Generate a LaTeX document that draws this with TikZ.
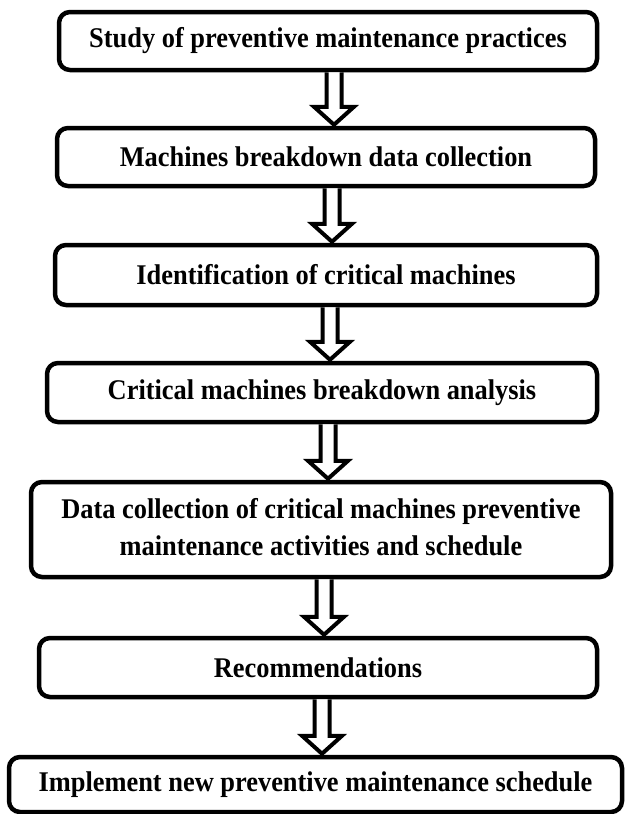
\documentclass[tikz,border=0pt]{standalone}
\usepackage{fontspec}
\setmainfont{Liberation Serif}
\usetikzlibrary{calc}
\newcommand{\vtxt}[1]{\scalebox{1}[1.08]{#1}}
\tikzset{
  box/.style={draw=black, line width=4.5pt, rounded corners=11pt, fill=white,
    inner sep=2pt, align=center, font=\bfseries\fontsize{26.4}{34}\selectfont},
  barrow/.style={draw=black, line width=4pt, line join=miter, fill=white}
}
\newcommand{\blockarr}[3]{%
  \draw[barrow] let \p1=(#1.south), \p2=(#2.north) in
    (#3-7.5,\y1) -- (#3-7.5,\y2+19) -- (#3-20,\y2+19) -- (#3,\y2+1) --
    (#3+20,\y2+19) -- (#3+7.5,\y2+19) -- (#3+7.5,\y1);
}
\begin{document}
\begin{tikzpicture}[x=1pt,y=1pt]
\useasboundingbox (0,0) rectangle (625,-814);
\node[box, minimum width=538pt, minimum height=58pt] (b1) at (328,-41) {\vtxt{Study of preventive maintenance practices}};
\node[box, minimum width=538pt, minimum height=58pt] (b2) at (326,-157) {\vtxt{Machines breakdown data collection}};
\node[box, minimum width=542pt, minimum height=60pt] (b3) at (326,-275) {\vtxt{Identification of critical machines}};
\node[box, minimum width=550pt, minimum height=59pt] (b4) at (322,-392.5) {\vtxt{Critical machines breakdown analysis}};
\node[box, minimum width=580pt, minimum height=95pt] (b5) at (321,-529.5) {\vtxt{\begin{tabular}{@{}c@{}}Data collection of critical machines preventive\\maintenance activities and schedule\end{tabular}}};
\node[box, minimum width=558pt, minimum height=59pt] (b6) at (318,-667.5) {\vtxt{Recommendations}};
\node[box, minimum width=613pt, minimum height=55pt] (b7) at (315.5,-784.5) {\vtxt{Implement new preventive maintenance schedule}};
\blockarr{b1}{b2}{334}
\blockarr{b2}{b3}{332}
\blockarr{b3}{b4}{330}
\blockarr{b4}{b5}{328}
\blockarr{b5}{b6}{324}
\blockarr{b6}{b7}{322}
\end{tikzpicture}
\end{document}
